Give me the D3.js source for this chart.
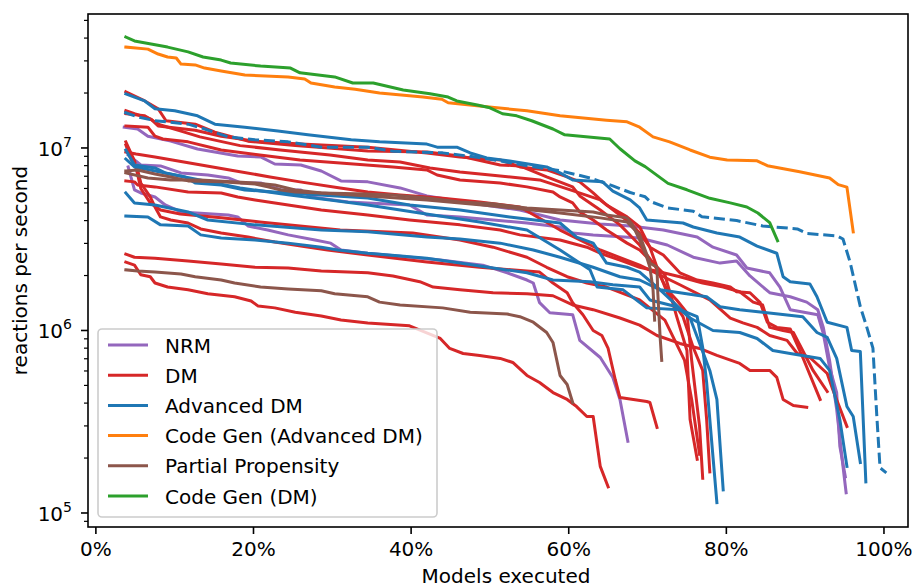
<!DOCTYPE html>
<html>
<head>
<meta charset="utf-8">
<script src="https://cdn.jsdelivr.net/npm/d3@7"></script>
<style>
	body { margin: 0; background: #fff; }
	text { font-family: "DejaVu Sans", sans-serif; fill: #000; }
</style>
</head>
<body>
<svg id="chart" width="921" height="587"></svg>
<script>
// [percent of models executed, reactions per second]
var nrmA = [[3.6,1.30e7],[5.3,1.27e7],[6.6,1.16e7],[9.5,1.09e7],[12.9,9.87e6],[18.0,9.04e6],[20.9,8.93e6],[22.7,8.17e6],[26.0,8.07e6],[28.6,7.48e6],[31.1,6.6e6],[34.5,6.52e6],[38.6,6.04e6],[42.0,5.46e6],[47.5,5.0e6],[53.8,4.57e6],[58.9,4.03e6],[64.0,3.83e6],[67.8,3.74e6],[72.0,3.55e6],[76.3,3.25e6],[78.3,2.86e6],[81.3,2.59e6],[82.6,2.20e6],[85.5,2.07e6],[86.8,1.73e6],[88.1,1.30e6],[91.6,1.22e6],[92.3,9.63e5],[93.1,6.27e5],[94.0,4.57e5],[94.4,2.32e5],[95.1,1.58e5]];
var nrmB = [[4.1,9.16e6],[5.7,8.07e6],[8.2,7.97e6],[10.8,7.3e6],[14.2,7.11e6],[16.8,6.85e6],[18.4,6.43e6],[20.9,6.43e6],[23.5,5.89e6],[26.0,5.89e6],[27.3,5.39e6],[32.0,5.06e6],[34.5,5.0e6],[39.8,4.87e6],[42.0,4.29e6],[46.2,4.19e6],[54.7,3.88e6],[58.9,3.69e6],[60.5,3.42e6],[63.1,3.34e6],[69.0,3.21e6],[72.5,2.94e6],[75.8,2.52e6],[79.2,2.34e6],[81.3,2.40e6],[83.0,1.99e6],[85.5,1.61e6],[88.1,1.53e6],[90.2,1.43e6],[91.6,1.30e6],[92.3,1.04e6],[93.1,6.85e5],[94.0,3.69e5],[94.8,1.80e5],[95.2,1.29e5]];
var nrmC = [[4.1,7.87e6],[4.9,5.89e6],[5.7,5.67e6],[7.5,5.39e6],[8.8,4.87e6],[10.8,4.46e6],[16.8,4.29e6],[18.0,4.19e6],[19.3,3.74e6],[21.8,3.55e6],[24.4,3.34e6],[27.8,3.13e6],[29.8,3.01e6],[31.1,2.76e6],[34.5,2.65e6],[38.6,2.55e6],[43.7,2.43e6],[49.1,2.28e6],[52.2,2.07e6],[54.7,1.89e6],[55.5,1.82e6],[56.3,1.42e6],[57.6,1.25e6],[60.5,1.22e6],[61.4,8.82e5],[64.0,7.11e5],[65.6,5.53e5],[66.5,4.19e5],[67.5,2.47e5]];

var dmA = [[3.8,2.03e7],[6.0,1.83e7],[7.9,1.64e7],[8.9,1.41e7],[12.6,1.35e7],[15.1,1.22e7],[19.3,1.09e7],[25.3,1.03e7],[34.5,9.63e6],[42.0,9.51e6],[46.2,9.04e6],[51.3,8.07e6],[53.8,7.97e6],[57.2,6.94e6],[60.5,6.12e6],[61.4,5.46e6],[64.0,4.57e6],[66.5,3.79e6],[69.0,2.94e6],[70.9,2.28e6],[72.5,1.67e6],[73.7,1.47e6],[75.0,1.25e6],[75.6,6.85e5],[76.6,2.98e5],[77.0,1.55e5]];
var dmB = [[3.8,1.60e7],[4.9,1.54e7],[7.0,1.44e7],[7.9,1.32e7],[12.6,1.25e7],[15.9,1.16e7],[20.2,1.09e7],[26.0,1.05e7],[34.5,1.01e7],[42.0,9.39e6],[46.2,8.93e6],[51.3,8.6e6],[53.8,7.87e6],[57.2,7.58e6],[59.8,6.94e6],[61.4,6.52e6],[63.1,5.67e6],[64.8,4.87e6],[67.4,4.19e6],[69.0,3.69e6],[70.3,2.86e6],[71.2,2.22e6],[72.5,1.61e6],[74.5,1.19e6],[75.8,8.07e5],[77.0,6.04e5],[77.5,3.25e5],[77.9,1.68e5]];
var dmC = [[3.8,1.32e7],[6.6,1.30e7],[7.5,1.16e7],[8.5,1.12e7],[11.7,1.08e7],[15.9,9.75e6],[20.8,9.16e6],[25.9,8.6e6],[31.0,8.28e6],[37.7,7.87e6],[42.0,7.58e6],[43.3,7.11e6],[46.2,6.68e6],[51.3,6.43e6],[54.7,6.12e6],[58.0,5.74e6],[58.9,5.39e6],[60.5,5.0e6],[61.4,4.46e6],[63.1,4.03e6],[64.8,3.55e6],[67.4,3.01e6],[69.0,2.76e6],[70.3,2.43e6],[72.2,2.02e6],[73.7,1.19e6],[75.0,7.77e5],[75.4,3.25e5],[76.3,1.97e5]];
var dmD = [[3.8,1.04e7],[4.4,8.82e6],[5.3,7.58e6],[5.7,6.43e6],[6.9,5.39e6],[7.5,4.75e6],[8.2,4.19e6],[9.5,4.03e6],[11.7,3.88e6],[13.3,3.6e6],[15.9,3.42e6],[19.3,3.25e6],[22.7,3.05e6],[26.0,2.90e6],[29.4,2.76e6],[34.5,2.59e6],[42.0,2.37e6],[48.7,2.22e6],[56.3,2.09e6],[58.0,1.82e6],[59.8,1.61e6],[60.5,1.42e6],[61.8,1.22e6],[63.1,1.0e6],[64.2,9.39e5],[65.0,7.97e5],[65.9,5.39e5],[66.5,4.29e5],[69.9,4.08e5],[70.3,4.03e5],[71.2,2.94e5]];
var dmE = [[3.8,2.37e6],[4.9,2.28e6],[5.7,2.02e6],[6.9,1.97e6],[7.5,1.82e6],[9.1,1.73e6],[11.7,1.67e6],[14.2,1.59e6],[17.6,1.53e6],[19.7,1.45e6],[20.6,1.36e6],[22.7,1.33e6],[25.3,1.26e6],[28.6,1.20e6],[31.1,1.14e6],[34.5,1.10e6],[39.8,1.06e6],[43.7,9.04e5],[44.9,7.97e5],[46.6,7.48e5],[48.7,7.3e5],[51.3,7.03e5],[52.9,6.68e5],[54.7,5.67e5],[56.3,5.19e5],[58.0,4.57e5],[59.8,4.19e5],[61.0,3.83e5],[62.3,3.38e5],[63.1,3.38e5],[64.0,1.80e5],[65.0,1.39e5]];
var dmF = [[3.8,2.62e6],[4.9,2.52e6],[7.5,2.49e6],[11.7,2.40e6],[15.9,2.31e6],[20.2,2.22e6],[24.4,2.20e6],[28.6,2.12e6],[34.5,2.07e6],[37.7,1.99e6],[41.1,1.85e6],[42.8,1.73e6],[46.2,1.67e6],[50.4,1.61e6],[54.7,1.59e6],[58.0,1.55e6],[60.5,1.38e6],[63.1,1.30e6],[66.5,1.17e6],[69.0,1.07e6],[71.2,9.39e5],[74.1,8.49e5],[76.6,7.97e5],[78.8,7.3e5],[81.7,6.6e5],[83.0,6.04e5],[85.5,6.04e5],[86.4,5.53e5],[87.2,4.19e5],[88.5,3.88e5],[90.2,3.79e5]];
var dmG = [[3.8,6.6e6],[4.9,6.52e6],[5.3,6.27e6],[7.5,6.12e6],[11.7,5.74e6],[15.9,5.67e6],[18.0,5.39e6],[20.2,5.19e6],[24.4,4.87e6],[28.6,4.57e6],[34.5,4.29e6],[39.8,4.03e6],[46.2,3.79e6],[51.3,3.55e6],[53.8,3.34e6],[58.9,3.13e6],[62.3,2.86e6],[64.0,2.65e6],[66.5,2.43e6],[69.0,2.22e6],[71.6,2.09e6],[74.1,1.97e6],[77.0,1.82e6],[79.6,1.73e6],[81.7,1.63e6],[83.4,1.43e6],[84.6,1.38e6],[85.5,1.04e6],[87.2,1.0e6],[88.5,9.75e5],[91.0,6.04e5],[92.8,4.63e5]];
var dmH = [[3.8,1.54e7],[6.2,1.50e7],[8.1,1.34e7],[10.7,1.24e7],[13.2,1.15e7],[18.3,1.03e7],[23.4,9.75e6],[29.7,9.16e6],[34.5,8.6e6],[38.6,8.38e6],[42.4,7.77e6],[46.2,7.39e6],[51.3,7.03e6],[56.3,6.68e6],[60.2,5.89e6],[64.0,5.19e6],[67.8,3.88e6],[69.0,3.42e6],[70.3,2.86e6],[72.0,2.59e6],[74.1,2.07e6],[76.3,1.89e6],[78.3,1.82e6],[80.5,1.73e6],[81.3,1.63e6],[83.0,1.61e6],[84.3,1.42e6],[85.2,1.11e6],[86.4,1.04e6],[88.1,1.02e6],[89.7,7.11e5],[91.9,4.19e5]];
var dmI = [[3.8,9.51e6],[5.1,9.27e6],[7.5,8.93e6],[11.9,8.28e6],[17.0,7.58e6],[22.1,6.94e6],[25.9,6.52e6],[31.0,6.04e6],[34.5,5.74e6],[38.6,5.53e6],[43.7,5.32e6],[48.7,5.06e6],[53.8,4.75e6],[58.9,3.55e6],[64.0,2.76e6],[69.0,2.28e6],[74.1,1.78e6],[77.9,1.47e6],[80.5,1.17e6],[82.1,1.10e6],[83.9,1.04e6],[85.5,9.39e5],[87.7,8.82e5],[89.0,7.48e5],[90.6,7.11e5],[92.8,5.81e5],[93.5,4.75e5],[95.3,2.98e5]];
var dmJ = [[3.8,1.08e7],[4.9,8.5e6],[5.7,6.0e6],[6.9,5.0e6],[8.2,4.57e6],[10.7,4.35e6],[15.9,4.14e6],[20.8,3.93e6],[25.9,3.74e6],[31.0,3.55e6],[40.2,3.42e6],[46.2,3.13e6],[50.4,2.86e6],[54.7,2.52e6],[57.2,2.22e6],[59.8,1.97e6],[62.3,1.82e6],[64.8,1.73e6],[69.0,1.47e6],[72.2,1.14e6],[74.7,6.85e5],[75.6,4.19e5],[76.6,2.10e5]];

var advA = [[3.8,1.98e7],[4.9,1.90e7],[6.2,1.81e7],[7.5,1.64e7],[10.0,1.60e7],[12.9,1.50e7],[15.1,1.35e7],[18.9,1.30e7],[23.1,1.24e7],[26.9,1.18e7],[32.4,1.11e7],[36.0,1.08e7],[42.0,1.05e7],[43.3,1.01e7],[45.8,1.01e7],[47.5,9.39e6],[49.6,8.82e6],[52.5,8.49e6],[57.2,7.87e6],[58.9,7.3e6],[60.5,6.68e6],[64.3,6.52e6],[65.6,5.8e6],[67.8,5.19e6],[69.0,4.69e6],[69.9,4.03e6],[74.5,3.88e6],[75.8,3.69e6],[78.8,3.42e6],[81.7,3.25e6],[83.9,2.9e6],[86.4,2.65e6],[87.2,1.97e6],[88.1,1.85e6],[90.6,1.80e6],[91.5,1.53e6],[92.8,1.11e6],[95.3,1.04e6],[95.9,7.77e5],[97.0,7.67e5],[97.7,1.48e5]];
var advB = [[3.8,9.75e6],[4.9,8.07e6],[7.5,7.77e6],[8.8,7.3e6],[11.3,6.94e6],[12.6,6.43e6],[15.9,6.27e6],[18.9,5.89e6],[24.4,5.67e6],[34.5,5.32e6],[39.8,4.87e6],[46.2,4.57e6],[52.5,4.19e6],[58.9,3.88e6],[61.0,3.25e6],[63.1,3.01e6],[64.8,2.34e6],[67.4,2.22e6],[69.0,2.09e6],[71.6,1.67e6],[74.1,1.61e6],[77.5,1.53e6],[79.2,1.35e6],[81.7,1.30e6],[84.6,1.26e6],[89.7,1.19e6],[91.5,9.75e5],[92.8,9.16e5],[94.0,7.03e5],[95.3,3.83e5],[96.1,3.38e5],[97.0,1.89e5]];
var advC = [[3.8,8.7e6],[4.9,7.87e6],[6.9,7.58e6],[13.2,6.68e6],[18.3,6.04e6],[24.6,5.53e6],[29.7,5.19e6],[34.5,4.87e6],[41.1,4.40e6],[48.7,3.93e6],[54.7,3.55e6],[58.9,2.76e6],[62.7,2.15e6],[63.6,1.73e6],[66.9,1.67e6],[69.9,1.33e6],[74.1,1.30e6],[76.3,1.19e6],[77.0,8.07e5],[77.5,5.19e5],[78.8,1.14e5]];
var advD = [[3.8,5.67e6],[4.9,5.0e6],[7.5,4.87e6],[11.7,4.46e6],[14.2,4.03e6],[20.2,3.79e6],[28.6,3.55e6],[34.5,3.47e6],[42.0,3.25e6],[46.2,3.17e6],[51.3,3.01e6],[55.5,2.76e6],[58.9,2.52e6],[63.1,2.22e6],[66.5,1.97e6],[69.0,1.89e6],[71.6,1.67e6],[75.4,1.17e6],[78.3,1.0e6],[81.7,9.75e5],[83.9,9.04e5],[85.9,7.77e5],[88.1,7.48e5],[91.9,7.03e5],[93.1,6.04e5],[94.4,3.25e5],[95.3,1.80e5]];
var advE = [[3.8,4.24e6],[6.6,4.19e6],[8.2,3.79e6],[11.7,3.74e6],[13.3,3.34e6],[15.9,3.21e6],[20.2,3.13e6],[24.4,3.01e6],[28.6,2.86e6],[30.7,2.76e6],[34.5,2.65e6],[42.0,2.49e6],[46.2,2.34e6],[50.4,2.20e6],[54.7,2.07e6],[58.0,1.89e6],[62.7,1.85e6],[65.6,1.78e6],[69.0,1.73e6],[70.3,1.47e6],[73.7,1.35e6],[75.4,1.17e6],[77.9,6.04e5],[78.8,4.19e5],[79.6,1.34e5]];
var advDashed = [[3.6,1.57e7],[5.3,1.48e7],[7.5,1.41e7],[11.7,1.35e7],[13.8,1.27e7],[16.8,1.15e7],[20.2,1.11e7],[24.4,1.08e7],[28.6,1.01e7],[34.5,1.01e7],[37.7,9.6e6],[44.0,9.4e6],[48.4,8.9e6],[51.3,8.5e6],[54.7,8.0e6],[58.9,7.5e6],[62.7,6.85e6],[65.6,6.2e6],[67.8,5.7e6],[69.7,5.4e6],[70.3,5.1e6],[72.5,4.7e6],[75.8,4.5e6],[76.9,4.2e6],[81.3,4.0e6],[84.6,3.74e6],[89.0,3.6e6],[90.2,3.4e6],[94.0,3.3e6],[94.8,3.17e6],[95.7,2.37e6],[97.0,1.35e6],[97.8,1.05e6],[98.6,8.0e5],[99.1,3.36e5],[99.5,1.77e5],[100.3,1.66e5]];

var codeGenAdv = [[3.8,3.57e7],[6.6,3.48e7],[7.9,3.27e7],[9.1,3.15e7],[10.2,3.11e7],[10.8,2.88e7],[12.6,2.85e7],[13.8,2.74e7],[15.9,2.64e7],[18.9,2.51e7],[24.4,2.45e7],[26.5,2.39e7],[27.3,2.27e7],[30.3,2.16e7],[32.9,2.10e7],[36.0,2.0e7],[41.5,1.90e7],[43.9,1.85e7],[44.7,1.77e7],[49.6,1.68e7],[54.7,1.60e7],[58.9,1.50e7],[64.8,1.42e7],[67.4,1.39e7],[69.0,1.30e7],[70.7,1.15e7],[72.8,1.08e7],[75.4,9.75e6],[77.9,8.9e6],[80.1,8.6e6],[83.9,8.5e6],[85.2,8.0e6],[89.3,7.4e6],[93.1,6.85e6],[94.2,6.3e6],[95.3,6.1e6],[96.1,3.47e6]];

var ppA = [[3.8,7.48e6],[5.3,7.58e6],[7.5,7.2e6],[9.5,6.94e6],[11.7,6.6e6],[15.9,6.52e6],[20.2,6.35e6],[21.8,6.12e6],[23.5,5.89e6],[25.3,5.74e6],[28.6,5.67e6],[34.5,5.6e6],[37.7,5.53e6],[42.0,5.32e6],[46.2,5.06e6],[50.4,4.94e6],[54.7,4.69e6],[58.9,4.57e6],[63.1,4.46e6],[64.8,4.29e6],[67.4,4.14e6],[68.1,3.79e6],[69.0,3.13e6],[69.9,2.52e6],[70.3,2.22e6],[70.7,1.67e6],[70.9,1.14e6]];
var ppB = [[3.8,7.3e6],[6.6,6.85e6],[9.5,6.68e6],[13.2,6.68e6],[20.2,6.43e6],[22.7,6.27e6],[25.3,5.89e6],[28.6,5.67e6],[34.5,5.46e6],[42.0,5.19e6],[50.4,4.81e6],[58.9,4.40e6],[64.0,4.14e6],[67.4,3.93e6],[69.0,3.34e6],[70.3,2.34e6],[71.2,2.22e6],[71.3,1.61e6],[71.6,9.16e5],[71.8,6.85e5]];
var ppC = [[3.8,2.15e6],[5.3,2.12e6],[7.5,2.09e6],[10.8,2.04e6],[12.6,1.97e6],[15.9,1.89e6],[17.6,1.82e6],[20.9,1.73e6],[24.4,1.69e6],[28.6,1.65e6],[30.3,1.59e6],[34.5,1.53e6],[36.0,1.43e6],[38.6,1.38e6],[44.0,1.33e6],[47.5,1.26e6],[52.2,1.23e6],[53.8,1.19e6],[55.5,1.11e6],[57.2,9.75e5],[58.0,8.6e5],[58.9,5.67e5],[59.8,5.06e5],[60.5,4.03e5]];

var codeGenDm = [[3.8,4.05e7],[4.9,3.86e7],[7.0,3.71e7],[9.1,3.57e7],[11.7,3.36e7],[13.6,3.15e7],[15.9,3.03e7],[17.1,2.92e7],[20.9,2.81e7],[24.7,2.74e7],[25.9,2.58e7],[30.3,2.45e7],[32.6,2.27e7],[35.2,2.27e7],[39.0,2.08e7],[42.4,1.98e7],[44.7,1.90e7],[45.8,1.81e7],[48.4,1.72e7],[50.0,1.66e7],[51.6,1.54e7],[53.4,1.50e7],[55.3,1.41e7],[58.0,1.27e7],[59.5,1.18e7],[65.2,1.12e7],[66.5,9.9e6],[68.4,8.5e6],[69.7,7.9e6],[72.6,6.4e6],[75.0,5.9e6],[77.9,5.3e6],[80.5,5.0e6],[82.6,4.75e6],[84.0,4.4e6],[85.5,3.9e6],[86.5,3.1e6]];

var groupNames = ["NRM", "DM", "Advanced DM", "Code Gen (Advanced DM)", "Partial Propensity", "Code Gen (DM)"];
var xTickValues = [0, 20, 40, 60, 80, 100];
var yMajorValues = [1e5, 1e6, 1e7];

var colors = {
	"NRM": "#9467bd",
	"DM": "#d62728",
	"Advanced DM": "#1f77b4",
	"Code Gen (Advanced DM)": "#ff7f0e",
	"Partial Propensity": "#8c564b",
	"Code Gen (DM)": "#2ca02c"
};

var series = [
	{group: "NRM", pts: nrmA}, {group: "NRM", pts: nrmB}, {group: "NRM", pts: nrmC},
	{group: "DM", pts: dmA}, {group: "DM", pts: dmB}, {group: "DM", pts: dmC}, {group: "DM", pts: dmD},
	{group: "DM", pts: dmE}, {group: "DM", pts: dmF}, {group: "DM", pts: dmG}, {group: "DM", pts: dmH},
	{group: "DM", pts: dmI}, {group: "DM", pts: dmJ},
	{group: "Advanced DM", pts: advA}, {group: "Advanced DM", pts: advB}, {group: "Advanced DM", pts: advC},
	{group: "Advanced DM", pts: advD}, {group: "Advanced DM", pts: advE},
	{group: "Advanced DM", pts: advDashed, dashed: true},
	{group: "Code Gen (Advanced DM)", pts: codeGenAdv},
	{group: "Partial Propensity", pts: ppA}, {group: "Partial Propensity", pts: ppB}, {group: "Partial Propensity", pts: ppC},
	{group: "Code Gen (DM)", pts: codeGenDm}
];

var svg = d3.select("#chart");
// plot box in pixels (window.top is reserved, so not "top")
var plotLeft = 88, plotRight = 908, plotTop = 14, plotBottom = 527;

var x = d3.scaleLinear().domain([-1.0, 103.05]).range([plotLeft, plotRight]);
var y = d3.scaleLog().domain([8.38e4, 5.42e7]).range([plotBottom, plotTop]);

svg.append("clipPath").attr("id", "plotClip")
	.append("rect")
		.attr("x", plotLeft).attr("y", plotTop)
		.attr("width", plotRight - plotLeft).attr("height", plotBottom - plotTop);

var line = d3.line()
	.x(function(d) { return x(d[0]); })
	.y(function(d) { return y(d[1]); });

svg.append("g")
	.attr("clip-path", "url(#plotClip)")
	.selectAll("path")
	.data(series).enter()
	.append("path")
		.attr("d", function(d) { return line(d.pts); })
		.attr("fill", "none")
		.attr("stroke", function(d) { return colors[d.group]; })
		.attr("stroke-width", 3)
		.attr("stroke-linejoin", "round")
		.attr("stroke-linecap", function(d) { return d.dashed ? "butt" : "square"; })
		.attr("stroke-dasharray", function(d) { return d.dashed ? "11.1,4.8" : null; });

// x ticks
var xAxisG = svg.append("g");
xTickValues.forEach(function(v) {
	xAxisG.append("line")
		.attr("x1", x(v)).attr("x2", x(v))
		.attr("y1", plotBottom).attr("y2", plotBottom + 7)
		.attr("stroke", "#000").attr("stroke-width", 1.6);
	xAxisG.append("text")
		.attr("x", x(v)).attr("y", plotBottom + 29)
		.attr("text-anchor", "middle")
		.attr("font-size", 20)
		.text(v + "%");
});

// y ticks, log scale with minor ticks
var yAxisG = svg.append("g");
var dom = y.domain();
for (var k = 4; k <= 7; k++) {
	for (var m = 2; m <= 9; m++) {
		var v = m * Math.pow(10, k);
		if (v < dom[0] || v > dom[1]) continue;
		yAxisG.append("line")
			.attr("x1", plotLeft - 4).attr("x2", plotLeft)
			.attr("y1", y(v)).attr("y2", y(v))
			.attr("stroke", "#000").attr("stroke-width", 1.2);
	}
}
yMajorValues.forEach(function(v) {
	yAxisG.append("line")
		.attr("x1", plotLeft - 7).attr("x2", plotLeft)
		.attr("y1", y(v)).attr("y2", y(v))
		.attr("stroke", "#000").attr("stroke-width", 1.6);
	var t = yAxisG.append("text")
		.attr("x", plotLeft - 16).attr("y", y(v) + 8)
		.attr("text-anchor", "end")
		.attr("font-size", 20);
	t.append("tspan").text("10");
	t.append("tspan")
		.attr("font-size", 14)
		.attr("dy", -9)
		.text(Math.round(Math.log10(v)));
});

svg.append("rect")
	.attr("x", plotLeft).attr("y", plotTop)
	.attr("width", plotRight - plotLeft).attr("height", plotBottom - plotTop)
	.attr("fill", "none").attr("stroke", "#000").attr("stroke-width", 1.6);

svg.append("text")
	.attr("x", 506).attr("y", 583)
	.attr("text-anchor", "middle")
	.attr("font-size", 20)
	.text("Models executed");

svg.append("text")
	.attr("transform", "translate(27," + ((plotTop + plotBottom) / 2) + ") rotate(-90)")
	.attr("text-anchor", "middle")
	.attr("font-size", 20)
	.text("reactions per second");

// legend, lower left
var legend = svg.append("g");
legend.append("rect")
	.attr("x", 98).attr("y", 329)
	.attr("width", 339).attr("height", 188)
	.attr("rx", 4).attr("ry", 4)
	.attr("fill", "#fff").attr("fill-opacity", 0.8)
	.attr("stroke", "#cccccc").attr("stroke-width", 1.6);

var rows = legend.selectAll(".legendRow")
	.data(groupNames).enter()
	.append("g")
		.attr("class", "legendRow")
		.attr("transform", function(d, i) { return "translate(0," + (345 + i * 30.2) + ")"; });
rows.append("line")
	.attr("x1", 108).attr("x2", 148)
	.attr("stroke", function(d) { return colors[d]; })
	.attr("stroke-width", 3);
rows.append("text")
	.attr("x", 165).attr("y", 7.5)
	.attr("font-size", 20)
	.text(function(d) { return d; });
</script>
</body>
</html>
